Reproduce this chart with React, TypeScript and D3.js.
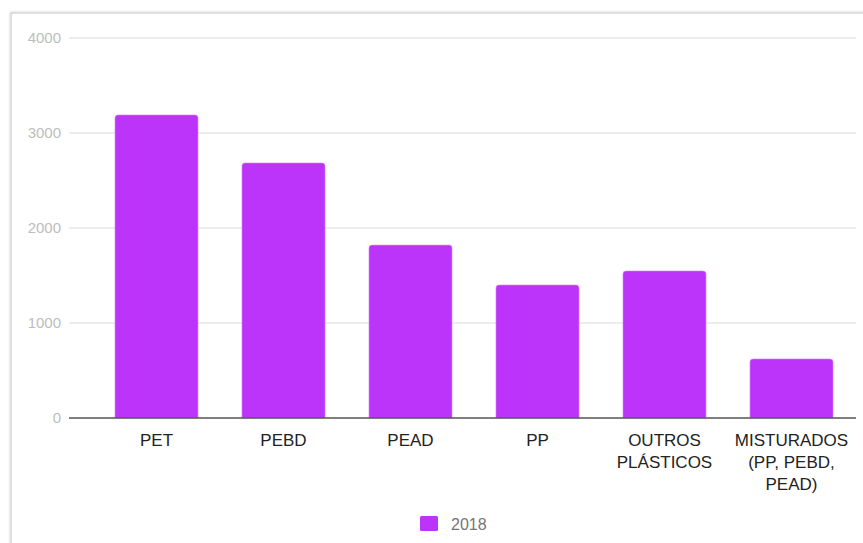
import React from "react";
import * as d3 from "d3";

const categories: string[][] = [
  ["PET"],
  ["PEBD"],
  ["PEAD"],
  ["PP"],
  ["OUTROS", "PLÁSTICOS"],
  ["MISTURADOS", "(PP, PEBD,", "PEAD)"],
];
const values2018: number[] = [3190, 2685, 1820, 1400, 1548, 622];
const yTicks: number[] = [0, 1000, 2000, 3000, 4000];
const seriesName = "2018";

const W = 863;
const H = 543;

export default function App() {
  const x = d3
    .scaleBand<number>()
    .domain(d3.range(categories.length))
    .range([93, 855])
    .paddingInner(0.346)
    .paddingOuter(0.173);
  const y = d3.scaleLinear().domain([0, 4000]).range([418, 38]);
  const color = "#bc33fa";
  const bw = x.bandwidth();

  const barPath = (x0: number, y0: number, w: number, h: number) => {
    const r = Math.min(3, h / 2);
    return `M${x0},${y0 + h}V${y0 + r}Q${x0},${y0} ${x0 + r},${y0}H${x0 + w - r}Q${x0 + w},${y0} ${x0 + w},${y0 + r}V${y0 + h}Z`;
  };

  return (
    <svg
      width={W}
      height={H}
      style={{ position: "absolute", left: 0, top: 0, fontFamily: "'Liberation Sans', Arial, sans-serif" }}
    >
      <defs>
        <filter id="sh" x="-5%" y="-5%" width="110%" height="110%">
          <feGaussianBlur stdDeviation="1.2" />
        </filter>
      </defs>
      <rect x={0} y={0} width={W} height={H} fill="#fff" />
      {/* card frame shadow */}
      <rect x={11} y={13} width={W + 20} height={H + 20} fill="none" stroke="#c8c8c8" strokeWidth={2} filter="url(#sh)" />
      <rect x={12} y={14} width={W + 20} height={H + 20} fill="#fff" />
      {/* gridlines */}
      {yTicks.map((t) => (
        <g key={t}>
          {t !== 0 && (
            <line x1={69} x2={856} y1={y(t)} y2={y(t)} stroke="#dcdcdc" strokeWidth={1.2} />
          )}
          <text x={61} y={y(t)} dy="0.35em" textAnchor="end" fontSize={15} fill="#bdbdbd">
            {t}
          </text>
        </g>
      ))}
      {/* bars */}
      {values2018.map((v, i) => (
        <path
          key={i}
          d={barPath(x(i)!, y(v), bw, y(0) - y(v))}
          fill={color}
          stroke="#d68cfb"
          strokeWidth={0.6}
        />
      ))}
      {/* baseline */}
      <line x1={69} x2={856} y1={y(0)} y2={y(0)} stroke="#555" strokeWidth={1.5} />
      {/* x labels */}
      {categories.map((lines, i) => (
        <text
          key={i}
          x={x(i)! + bw / 2}
          y={446}
          textAnchor="middle"
          fontSize={17}
          fill="#222"
        >
          {lines.map((l, j) => (
            <tspan key={j} x={x(i)! + bw / 2} dy={j === 0 ? 0 : 22}>
              {l}
            </tspan>
          ))}
        </text>
      ))}
      {/* legend */}
      <rect x={420} y={516} width={18} height={15} rx={1.5} fill={color} />
      <text x={451} y={524} dy="0.35em" fontSize={16} fill="#757575">
        {seriesName}
      </text>
    </svg>
  );
}
